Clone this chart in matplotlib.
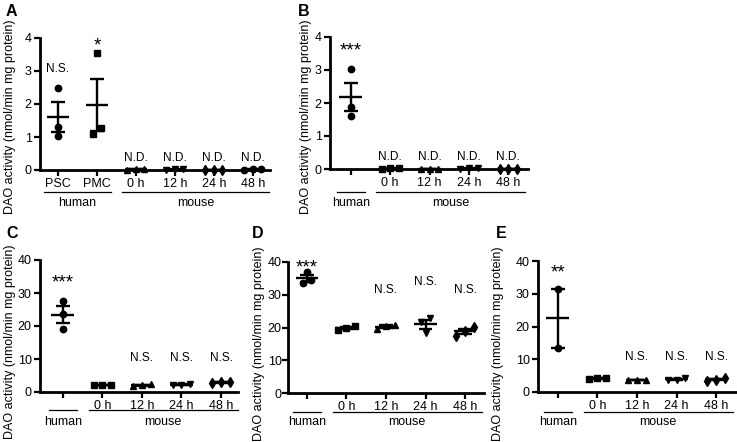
import numpy as np
import matplotlib
matplotlib.use("Agg")
import matplotlib.pyplot as plt
import matplotlib.transforms as mtransforms

plt.rcParams['font.family'] = ['Liberation Sans', 'DejaVu Sans']

# ---------------- data ----------------
A_labels = ['PSC', 'PMC', '0 h', '12 h', '24 h', '48 h']
A_values = [[2.48, 1.29, 1.04], [3.55, 1.26, 1.08], [0.02, 0.0, 0.03],
            [0.02, 0.0, 0.02], [0.0, 0.01, 0.0], [0.02, 0.0, 0.02]]
A_marks = ['N.S.', '*', 'N.D.', 'N.D.', 'N.D.', 'N.D.']

B_labels = ['', '0 h', '12 h', '24 h', '48 h']
B_values = [[3.02, 1.89, 1.62], [0.02, 0.0, 0.02], [0.01, 0.0, 0.01],
            [0.02, 0.0, 0.02], [0.01, 0.0, 0.01]]
B_marks = ['***', 'N.D.', 'N.D.', 'N.D.', 'N.D.']

C_labels = ['', '0 h', '12 h', '24 h', '48 h']
C_values = [[27.7, 23.5, 19.0], [2.1, 2.0, 2.1], [2.3, 1.8, 2.2],
            [2.4, 2.2, 2.1], [3.1, 2.6, 3.0]]
C_marks = ['***', '', 'N.S.', 'N.S.', 'N.S.']

D_labels = ['', '0 h', '12 h', '24 h', '48 h']
D_values = [[37.0, 34.4, 33.6], [20.5, 19.9, 19.3], [20.8, 20.4, 19.6],
            [23.0, 21.8, 18.2], [20.2, 18.8, 17.4]]
D_marks = ['***', '', 'N.S.', 'N.S.', 'N.S.']

E_labels = ['', '0 h', '12 h', '24 h', '48 h']
E_values = [[31.5, 13.5], [4.4, 4.0, 4.2], [3.8, 3.6, 3.7],
            [4.3, 3.7, 3.8], [4.3, 3.4, 3.8]]
E_marks = ['**', '', 'N.S.', 'N.S.', 'N.S.']

ylabel = 'DAO activity (nmol/min mg protein)'

# ---------------- layout ----------------
W, H = 737, 442
fig = plt.figure(figsize=(W / 100, H / 100), dpi=100)


def add_ax(x0, x1, ytop, ybot):
    return fig.add_axes([x0 / W, 1 - ybot / H, (x1 - x0) / W, (ybot - ytop) / H])


def fy(px):
    return 1 - px / H


def swarm(vals, ppu, thr=7.0, step=0.22):
    vals = np.asarray(vals, float)
    order = np.argsort(vals)
    offs = np.zeros(len(vals))
    clusters = [[order[0]]]
    for i in order[1:]:
        if (vals[i] - vals[clusters[-1][-1]]) * ppu < thr:
            clusters[-1].append(i)
        else:
            clusters.append([i])
    for c in clusters:
        k = len(c)
        for j, idx in enumerate(c):
            offs[idx] = (j - (k - 1) / 2) * step
    return offs


def panel(box, xlim, ylim, yticks, labels, values, marks, markers, mark_y,
          n_human, letter, letter_xy, ylab_xy, line_y, text_y, ypad=2):
    x0, x1, ytop, ybot = box
    ax = add_ax(x0, x1, ytop, ybot)
    ax.set_xlim(*xlim)
    ax.set_ylim(*ylim)
    ppu = (ybot - ytop) / (ylim[1] - ylim[0])
    for i, vals in enumerate(values):
        vals = np.asarray(vals, float)
        offs = swarm(vals, ppu)
        ax.plot(i + offs, vals, linestyle='none', marker=markers[i],
                ms=4.6, color='black', clip_on=False, zorder=4)
        m = vals.mean()
        sem = vals.std(ddof=1) / np.sqrt(len(vals))
        kw = dict(color='black', lw=1.7, clip_on=False, zorder=5,
                  solid_capstyle='butt')
        ax.plot([i - 0.29, i + 0.29], [m, m], **kw)
        ax.plot([i, i], [m - sem, m + sem], **kw)
        ax.plot([i - 0.17, i + 0.17], [m + sem, m + sem], **kw)
        ax.plot([i - 0.17, i + 0.17], [m - sem, m - sem], **kw)
        if marks[i].startswith('*'):
            ax.annotate(marks[i], (i, mark_y[i]), xytext=(0, -7.6),
                        textcoords='offset points', ha='center',
                        va='baseline', fontsize=13.5, annotation_clip=False)
        elif marks[i]:
            ax.text(i, mark_y[i], marks[i], ha='center', va='center',
                    fontsize=8.6, clip_on=False)
    ax.set_yticks(yticks)
    ax.set_xticks(range(len(labels)))
    ax.set_xticklabels(labels)
    for s in ['top', 'right']:
        ax.spines[s].set_visible(False)
    for s in ['left', 'bottom']:
        ax.spines[s].set_linewidth(2.0)
    ax.tick_params(direction='out', length=4, width=1.6, labelsize=9, pad=2)
    ax.tick_params(axis='y', pad=ypad)
    # group lines
    tr = mtransforms.blended_transform_factory(ax.transData, fig.transFigure)
    n = len(labels)
    hx = (-0.35, n_human - 1 + 0.35)
    mx = (n_human - 0.35, n - 1 + 0.42)
    for (a, b), name in [(hx, 'human'), (mx, 'mouse')]:
        ax.plot([a, b], [fy(line_y), fy(line_y)], color='black', lw=0.9,
                transform=tr, clip_on=False)
        ax.text((a + b) / 2, fy(text_y), name, transform=tr, ha='center',
                va='center', fontsize=9)
    fig.text(letter_xy[0] / W, fy(letter_xy[1]), letter, fontsize=11.5,
             fontweight='bold', ha='left', va='center')
    fig.text(ylab_xy[0] / W, fy(ylab_xy[1]), ylabel, rotation=90,
             ha='center', va='center', fontsize=9)
    return ax


panel((40, 270, 38, 170), (-0.46, 5.44), (0, 4), [0, 1, 2, 3, 4],
      A_labels, A_values, A_marks, ['o', 's', '^', 'v', 'd', 'o'],
      [3.06, 3.94, 0.36, 0.36, 0.36, 0.36], 2, 'A', (6, 12), (10, 117), 192, 203)

panel((330, 528, 37, 169), (-0.53, 4.5), (0, 4), [0, 1, 2, 3, 4],
      B_labels, B_values, B_marks, ['o', 's', '^', 'v', 'd'],
      [3.76, 0.36, 0.36, 0.36, 0.36], 1, 'B', (298, 12), (306, 117), 192, 203)

panel((40, 238, 260, 392), (-0.58, 4.43), (0, 40), [0, 10, 20, 30, 40],
      C_labels, C_values, C_marks, ['o', 's', '^', 'v', 'd'],
      [34.8, 0, 10.3, 10.3, 10.3], 1, 'C', (6, 233), (10, 342), 410, 422)

panel((288, 484, 262, 393), (-0.48, 4.48), (0, 40), [0, 10, 20, 30, 40],
      D_labels, D_values, D_marks, ['o', 's', '^', 'v', 'd'],
      [40.1, 0, 31.5, 33.9, 31.5], 1, 'D', (252, 233), (259, 344), 412, 422,
      ypad=0.5)

panel((538, 736, 261, 392), (-0.5, 4.5), (0, 40), [0, 10, 20, 30, 40],
      E_labels, E_values, E_marks, ['o', 's', '^', 'v', 'd'],
      [38.2, 0, 10.7, 10.7, 10.7], 1, 'E', (496, 233), (498, 344), 412, 422)

fig.savefig('out.png', dpi=100)
